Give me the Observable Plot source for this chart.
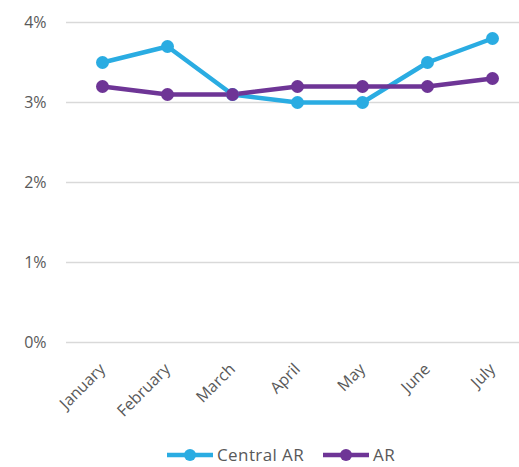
<!DOCTYPE html>
<html>
<head>
<meta charset="utf-8">
<script src="https://cdn.jsdelivr.net/npm/d3@7"></script>
<script src="https://cdn.jsdelivr.net/npm/@observablehq/plot@0.6"></script>
<style>
  html, body { margin: 0; padding: 0; background: #fff; overflow: hidden; width: 519px; height: 467px; }
  #chart svg { display: block; }
  #legend { display: flex; align-items: center; margin-left: 166px; margin-top: 6px; font-family: "Open Sans", sans-serif; font-size: 17px; letter-spacing: 0.4px; color: #595959; line-height: 22px; height: 22px; }
  #legend .item { display: flex; align-items: center; margin-right: 18px; }
  #legend svg { display: block; margin-right: 3px; }
</style>
</head>
<body>
<div id="chart"></div>
<div id="legend"></div>
<script>
const months = ["January", "February", "March", "April", "May", "June", "July"];
const centralAR = [3.5, 3.7, 3.1, 3.0, 3.0, 3.5, 3.8];
const ar = [3.2, 3.1, 3.1, 3.2, 3.2, 3.2, 3.3];
const seriesNames = ["Central AR", "AR"];
const seriesColors = ["#2AACE2", "#6E3596"];
const yTicks = [0, 1, 2, 3, 4];

const data = [
  ...months.map((m, i) => ({month: m, value: centralAR[i], series: seriesNames[0]})),
  ...months.map((m, i) => ({month: m, value: ar[i], series: seriesNames[1]}))
];

const chart = Plot.plot({
  width: 519,
  height: 438,
  marginTop: 22,
  marginBottom: 96,
  marginLeft: 66,
  marginRight: 0,
  style: {fontFamily: "'Open Sans', sans-serif", fontSize: "16px", color: "#595959", background: "#fff", overflow: "hidden"},
  x: {type: "point", domain: months, padding: 0.5, range: [66, 527], label: null, tickRotate: -45, tickSize: 0, tickPadding: 24},
  y: {domain: [0, 4], ticks: yTicks, tickFormat: d => d + "%", label: null, tickSize: 0, tickPadding: 20},
  color: {domain: seriesNames, range: seriesColors},
  marks: [
    Plot.ruleY(yTicks, {stroke: "#d9d9d9", strokeWidth: 1.5}),
    Plot.line(data, {x: "month", y: "value", z: "series", stroke: "series", strokeWidth: 4.5, curve: "linear"}),
    Plot.dot(data, {x: "month", y: "value", fill: "series", r: 6.5})
  ]
});
document.getElementById("chart").appendChild(chart);

const legend = document.getElementById("legend");
seriesNames.forEach((name, i) => {
  const item = document.createElement("div");
  item.className = "item";
  item.innerHTML = `<svg width="48" height="14"><line x1="1" y1="7" x2="47" y2="7" stroke="${seriesColors[i]}" stroke-width="4.5"/><circle cx="24" cy="7" r="6" fill="${seriesColors[i]}"/></svg><span>${name}</span>`;
  legend.appendChild(item);
});
</script>
</body>
</html>
